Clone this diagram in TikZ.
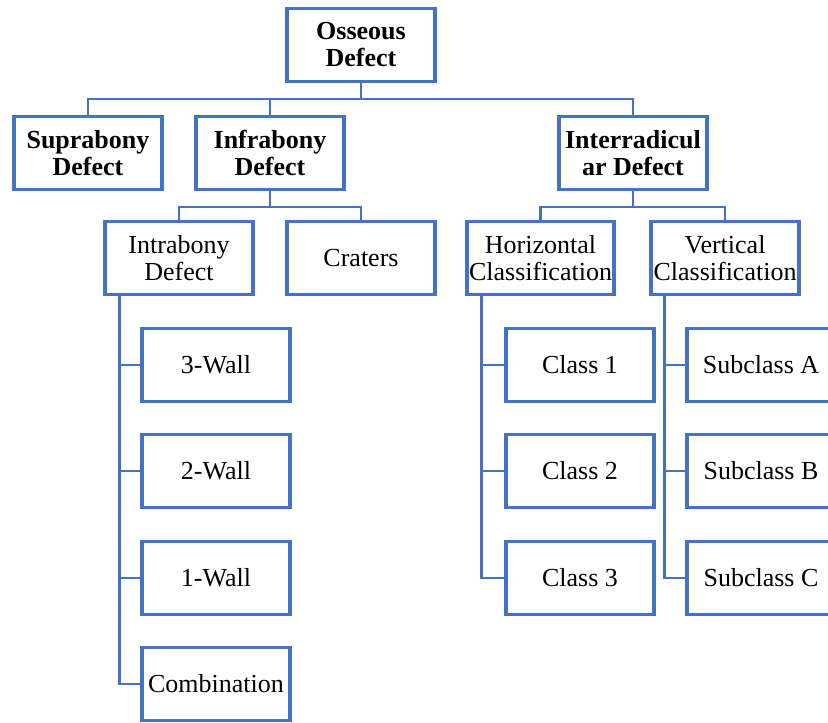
\documentclass[tikz,border=0pt]{standalone}
\usepackage{fontspec}
\setmainfont{Liberation Serif}
\usepackage{xcolor}
\usetikzlibrary{calc, positioning}

\definecolor{boxblue}{HTML}{4472C4}

\begin{document}
\begin{tikzpicture}[x=0.5pt, y=-0.5pt,
    box/.style={draw=boxblue, line width=1.6pt, fill=white, minimum width=74pt, minimum height=36.5pt, align=center, inner sep=1pt, font=\fontsize{13}{13.5}\selectfont},
    head/.style={box, font=\fontsize{13}{13.5}\selectfont\bfseries},
    link/.style={draw=boxblue, line width=1.2pt}]
                            \useasboundingbox (0,0) rectangle (828,722);
                            \clip (0,0) rectangle (828,722);

                            \node[head] (osseous) at (361, 45) {Osseous\\Defect};
                            \node[head] (supra) at (88, 153) {Suprabony\\Defect};
                            \node[head] (infra) at (270, 153) {Infrabony\\Defect};
                            \node[head] (inter) at (633, 153) {Interradicul\\ar Defect};

                            \node[box] (intra) at (179, 258) {Intrabony\\Defect};
                            \node[box] (craters) at (361, 258) {Craters};
                            \node[box, minimum width=73.5pt] (horiz) at (540.5, 258) {Horizontal\\Classification};
                            \node[box] (vert) at (725, 258) {Vertical\\Classification};

                            \node[box] (wall3) at (216, 365) {3-Wall};
                            \node[box] (wall2) at (216, 471) {2-Wall};
                            \node[box] (wall1) at (216, 578) {1-Wall};
                            \node[box] (comb) at (216, 684) {Combination};

                            \node[box] (class1) at (580, 365) {Class 1};
                            \node[box] (class2) at (580, 471) {Class 2};
                            \node[box] (class3) at (580, 578) {Class 3};

                            \node[box] (subA) at (761, 365) {Subclass A};
                            \node[box] (subB) at (761, 471) {Subclass B};
                            \node[box] (subC) at (761, 578) {Subclass C};

                            % top level
                            \draw[link] (osseous.south) -- ++(0,16) -| (supra.north);
                            \draw[link] (osseous.south) -- ++(0,16) -| (infra.north);
                            \draw[link] (osseous.south) -- ++(0,16) -| (inter.north);

                            \draw[link] (infra.south) -- ++(0,16) -| (intra.north);
                            \draw[link] (infra.south) -- ++(0,16) -| (craters.north);
                            \draw[link] (inter.south) -- ++(0,16) -| (horiz.north);
                            \draw[link] (inter.south) -- ++(0,16) -| (vert.north);

                            % side branches
                            \foreach \n in {wall3, wall2, wall1, comb}
                                \draw[link] ($(intra.south west)+(16,0)$) |- (\n.west);
                            \foreach \n in {class1, class2, class3}
                                \draw[link] ($(horiz.south west)+(16,0)$) |- (\n.west);
                            \foreach \n in {subA, subB, subC}
                                \draw[link] ($(vert.south west)+(15,0)$) |- (\n.west);
                        \end{tikzpicture}
\end{document}
